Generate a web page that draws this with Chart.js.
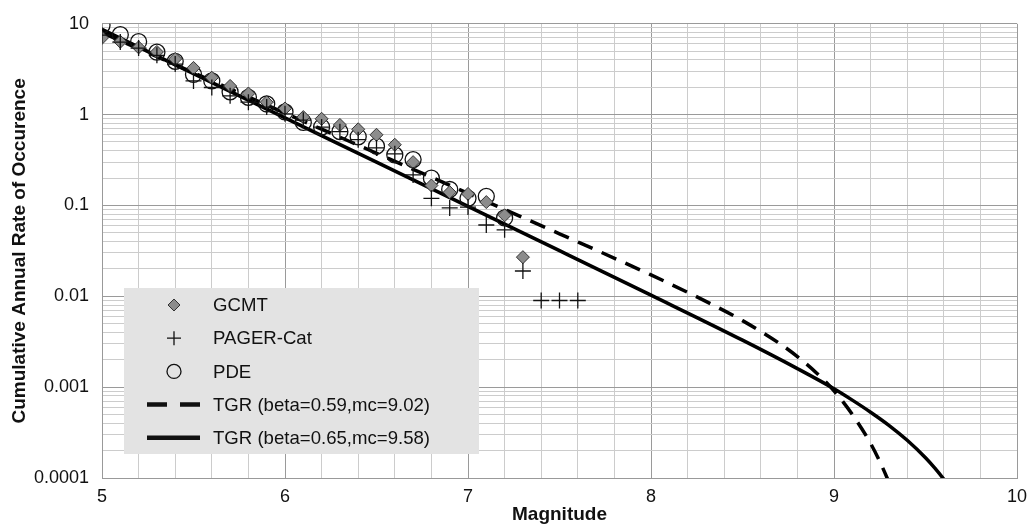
<!DOCTYPE html>
<html>
<head>
<meta charset="utf-8">
<script src="https://cdn.jsdelivr.net/npm/chart.js@4.4.1/dist/chart.umd.min.js"></script>
<style>
  html, body { margin: 0; padding: 0; background: #fff; }
</style>
</head>
<body>
<canvas id="chart" width="1028" height="529"></canvas>
<script>
// GCMT catalogue
const gcmtMag = [5.0, 5.1, 5.2, 5.3, 5.4, 5.5, 5.6, 5.7, 5.8, 5.9, 6.0, 6.1, 6.2, 6.3, 6.4, 6.5, 6.6, 6.7, 6.8, 6.9, 7.0, 7.1, 7.2, 7.3];
const gcmtRate = [7.0, 6.35, 5.5, 4.9, 4.1, 3.27, 2.55, 2.07, 1.71, 1.37, 1.17, 0.94, 0.90, 0.77, 0.69, 0.60, 0.466, 0.30, 0.166, 0.14, 0.134, 0.109, 0.078, 0.027];

// PAGER-Cat catalogue
const pagerMag = [5.0, 5.1, 5.2, 5.3, 5.4, 5.5, 5.6, 5.7, 5.8, 5.9, 6.0, 6.1, 6.2, 6.3, 6.4, 6.5, 6.6, 6.7, 6.8, 6.9, 7.0, 7.1, 7.2, 7.3, 7.4, 7.5, 7.6];
const pagerRate = [7.5, 6.3, 5.4, 4.5, 3.6, 2.35, 1.99, 1.61, 1.37, 1.21, 1.02, 0.87, 0.73, 0.65, 0.53, 0.43, 0.37, 0.217, 0.12, 0.094, 0.096, 0.061, 0.054, 0.019, 0.009, 0.009, 0.009];

// PDE catalogue
const pdeMag = [5.0, 5.1, 5.2, 5.3, 5.4, 5.5, 5.6, 5.7, 5.8, 5.9, 6.0, 6.1, 6.2, 6.3, 6.4, 6.5, 6.6, 6.7, 6.8, 6.9, 7.0, 7.1, 7.2];
const pdeRate = [9.6, 7.6, 6.35, 4.87, 3.86, 2.77, 2.35, 1.78, 1.55, 1.31, 1.07, 0.82, 0.73, 0.65, 0.57, 0.45, 0.36, 0.32, 0.20, 0.15, 0.12, 0.126, 0.073];

// TGR curves
const tgr1Mag = [5.0, 5.5, 6.0, 6.5, 7.0, 7.5, 8.0, 8.3, 8.5, 8.7, 8.8, 8.9, 9.0, 9.1, 9.2, 9.25, 9.3, 9.35];
const tgr1Rate = [8.0, 2.89, 1.04, 0.376, 0.136, 0.0488, 0.0172, 0.0088, 0.0054, 0.00305, 0.00217, 0.00146, 0.00091, 0.0005, 0.00024, 0.000152, 0.00009, 0.00005];
const tgr2Mag = [5.0, 5.5, 6.0, 6.5, 7.0, 7.5, 8.0, 8.5, 8.8, 9.0, 9.1, 9.2, 9.3, 9.4, 9.5, 9.55, 9.6, 9.65];
const tgr2Rate = [8.7, 2.83, 0.92, 0.30, 0.0976, 0.0318, 0.0103, 0.00329, 0.0016, 0.00096, 0.00072, 0.00053, 0.00038, 0.00026, 0.000167, 0.000129, 0.000097, 0.000071];

// axis ticks
const yDecades = [0.0001, 0.001, 0.01, 0.1, 1, 10];
const xMajor = [5, 6, 7, 8, 9, 10];

const seriesLabels = ['GCMT', 'PAGER-Cat', 'PDE', 'TGR (beta=0.59,mc=9.02)', 'TGR (beta=0.65,mc=9.58)'];

function toPoints(xs, ys) {
  return xs.map((x, i) => ({ x: x, y: ys[i] }));
}

// log grid: 1..9 x each decade
const yGrid = [];
yDecades.forEach((d, i) => {
  if (i === yDecades.length - 1) { yGrid.push(d); return; }
  for (let k = 1; k < 10; k++) yGrid.push(Number((k * d).toPrecision(3)));
});

function isDecade(v) {
  return yDecades.some(d => Math.abs(v - d) < d * 1e-6);
}
function isWhole(v) {
  return xMajor.some(m => Math.abs(v - m) < 1e-6);
}

Chart.defaults.font.family = "'Liberation Sans', Arial, sans-serif";
Chart.defaults.font.size = 18;
Chart.defaults.color = '#111';

// legend drawn inside the plot area
const legendBox = {
  id: 'legendBox',
  afterDatasetsDraw(chart) {
    const ctx = chart.ctx;
    const x0 = 124, y0 = 288, w = 355, h = 166;
    const sx = 174, tx = 213, step = 33.2, firstY = 305;
    ctx.save();
    ctx.fillStyle = '#e3e3e3';
    ctx.fillRect(x0, y0, w, h);
    ctx.font = "18.6px 'Liberation Sans', Arial, sans-serif";
    ctx.textBaseline = 'middle';
    ctx.textAlign = 'left';
    seriesLabels.forEach((label, i) => {
      const y = firstY + i * step;
      ctx.strokeStyle = '#111';
      ctx.setLineDash([]);
      if (i === 0) {
        ctx.beginPath();
        ctx.moveTo(sx, y - 6); ctx.lineTo(sx + 6, y); ctx.lineTo(sx, y + 6); ctx.lineTo(sx - 6, y);
        ctx.closePath();
        ctx.fillStyle = '#8c8c8c';
        ctx.fill();
        ctx.lineWidth = 1;
        ctx.strokeStyle = '#333';
        ctx.stroke();
      } else if (i === 1) {
        ctx.lineWidth = 1.3;
        ctx.beginPath();
        ctx.moveTo(sx - 7, y); ctx.lineTo(sx + 7, y);
        ctx.moveTo(sx, y - 7); ctx.lineTo(sx, y + 7);
        ctx.stroke();
      } else if (i === 2) {
        ctx.lineWidth = 1.3;
        ctx.beginPath();
        ctx.arc(sx, y, 7, 0, Math.PI * 2);
        ctx.stroke();
      } else {
        ctx.lineWidth = 4.5;
        if (i === 3) ctx.setLineDash([20, 13]);
        ctx.beginPath();
        ctx.moveTo(147, y); ctx.lineTo(200, y);
        ctx.stroke();
        ctx.setLineDash([]);
      }
      ctx.fillStyle = '#111';
      ctx.fillText(label, tx, y + 1);
    });
    ctx.restore();
  }
};

const config = {
  type: 'scatter',
  data: {
    datasets: [
      {
        label: seriesLabels[0],
        data: toPoints(gcmtMag, gcmtRate),
        pointStyle: 'rectRot',
        pointRadius: 6.5,
        backgroundColor: '#8c8c8c',
        borderColor: '#333',
        borderWidth: 1,
        order: 2
      },
      {
        label: seriesLabels[1],
        data: toPoints(pagerMag, pagerRate),
        pointStyle: 'cross',
        pointRadius: 8,
        borderColor: '#111',
        borderWidth: 1.3,
        order: 1
      },
      {
        label: seriesLabels[2],
        data: toPoints(pdeMag, pdeRate),
        pointStyle: 'circle',
        pointRadius: 8,
        backgroundColor: 'rgba(0,0,0,0)',
        borderColor: '#111',
        borderWidth: 1.3,
        order: 3
      },
      {
        label: seriesLabels[3],
        type: 'line',
        data: toPoints(tgr1Mag, tgr1Rate),
        showLine: true,
        borderColor: '#000',
        borderWidth: 3.5,
        borderDash: [16, 10],
        pointRadius: 0,
        cubicInterpolationMode: 'monotone',
        fill: false,
        order: 4
      },
      {
        label: seriesLabels[4],
        type: 'line',
        data: toPoints(tgr2Mag, tgr2Rate),
        showLine: true,
        borderColor: '#000',
        borderWidth: 3.5,
        pointRadius: 0,
        cubicInterpolationMode: 'monotone',
        fill: false,
        order: 5
      }
    ]
  },
  options: {
    responsive: false,
    animation: false,
    layout: { padding: { left: 0, right: 0, top: 15, bottom: 0 } },
    plugins: {
      legend: { display: false },
      tooltip: { enabled: false }
    },
    scales: {
      x: {
        type: 'linear',
        min: 5,
        max: 10,
        afterFit(scale) {
          scale.height = 51;
          scale.paddingLeft = 0;
          scale.paddingRight = 11;
        },
        ticks: {
          stepSize: 0.2,
          autoSkip: false,
          maxRotation: 0,
          padding: 8,
          callback: (v) => isWhole(v) ? String(Math.round(v)) : ''
        },
        grid: {
          drawTicks: false,
          color: (c) => (c.tick && isWhole(c.tick.value)) ? '#9a9a9a' : '#cccccc'
        },
        border: { color: '#999' },
        title: {
          display: true,
          text: 'Magnitude',
          font: { size: 19, weight: 'bold' },
          padding: { top: 0, bottom: 3 }
        }
      },
      y: {
        type: 'logarithmic',
        min: 0.0001,
        max: 10,
        afterFit(scale) { scale.width = 102; },
        afterBuildTicks(scale) {
          scale.ticks = yGrid.map(v => ({ value: v }));
        },
        ticks: {
          autoSkip: false,
          padding: 13,
          callback: (v) => isDecade(v) ? String(v) : ''
        },
        grid: {
          drawTicks: false,
          color: (c) => (c.tick && isDecade(c.tick.value)) ? '#9a9a9a' : '#cccccc'
        },
        border: { color: '#999' },
        title: {
          display: true,
          text: 'Cumulative Annual Rate of Occurence',
          font: { size: 19, weight: 'bold' },
          padding: { top: 8, bottom: 0 }
        }
      }
    }
  },
  plugins: [legendBox]
};

new Chart(document.getElementById('chart'), config);
</script>
</body>
</html>
